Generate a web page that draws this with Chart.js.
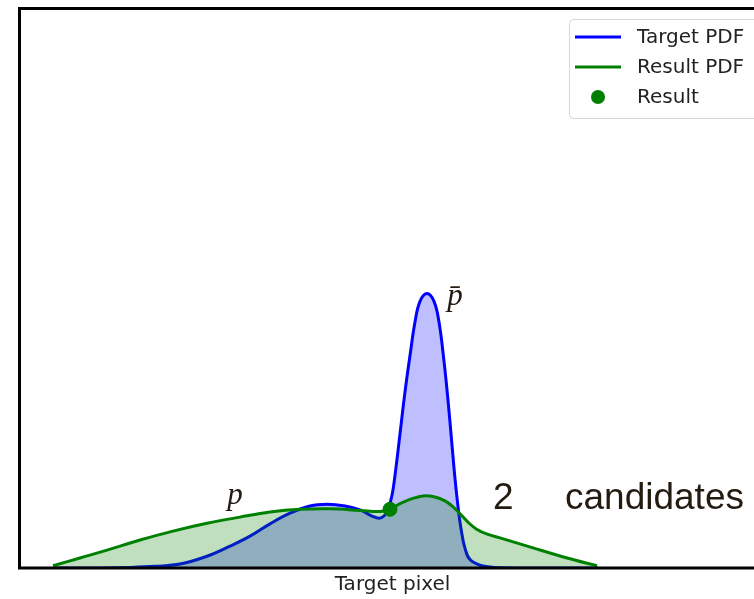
<!DOCTYPE html>
<html>
<head>
<meta charset="utf-8">
<script src="https://cdn.jsdelivr.net/npm/chart.js@4.4.1/dist/chart.umd.min.js"></script>
<style>
  html, body { margin: 0; padding: 0; background: #fff; overflow: hidden; }
  #wrap { width: 780px; height: 599px; }
</style>
</head>
<body>
<div id="wrap"><canvas id="pdfChart" width="780" height="599"></canvas></div>
<script>
// --- data (x = target pixel, y = density) ---
const targetX = [36, 81, 111, 136, 161, 188, 211, 231, 251, 271, 291, 308, 326, 341, 353, 360, 365, 369, 373, 377, 381, 386, 391, 396, 401, 408, 415, 420, 425, 429, 433, 436, 439, 442, 446, 451, 461, 476, 511, 579];
const targetY = [0, 0, 0.001, 0.003, 0.007, 0.021, 0.039, 0.057, 0.079, 0.098, 0.111, 0.114, 0.111, 0.104, 0.093, 0.089, 0.093, 0.105, 0.13, 0.18, 0.24, 0.315, 0.38, 0.44, 0.477, 0.491, 0.477, 0.44, 0.37, 0.3, 0.22, 0.16, 0.11, 0.07, 0.035, 0.015, 0.005, 0.001, 0, 0];

const resultX = [34, 61, 88, 121, 154, 188, 221, 251, 281, 311, 341, 361, 371, 381, 393, 404, 416, 426, 433, 441, 449, 458, 469, 481, 514, 548, 578];
const resultY = [0.004, 0.018, 0.032, 0.05, 0.066, 0.08, 0.091, 0.1, 0.105, 0.106, 0.103, 0.101, 0.105, 0.115, 0.124, 0.129, 0.127, 0.12, 0.111, 0.097, 0.082, 0.069, 0.06, 0.054, 0.036, 0.018, 0.004];

const resultPointX = [371];
const resultPointY = [0.105];

// text labels placed in data units
const noteTexts = ['p\u0304', 'p', '2', 'candidates'];
const noteX = [436, 216, 474, 546];
const noteY = [0.47, 0.114, 0.105, 0.105];
const noteMath = [true, true, false, false];

const toPoints = (xs, ys) => xs.map((x, i) => ({ x: x, y: ys[i] }));

// frame: left, top and bottom spines
const framePlugin = {
  id: 'frame',
  afterDatasetsDraw(chart) {
    const { ctx, chartArea: a } = chart;
    ctx.save();
    ctx.strokeStyle = '#000';
    ctx.lineWidth = 3;
    ctx.lineCap = 'square';
    ctx.beginPath();
    ctx.moveTo(a.right + 20, a.top - 0.5);
    ctx.lineTo(a.left - 0.5, a.top - 0.5);
    ctx.lineTo(a.left - 0.5, a.bottom);
    ctx.lineTo(a.right + 20, a.bottom);
    ctx.stroke();
    ctx.restore();
  }
};

const notesPlugin = {
  id: 'notes',
  afterDraw(chart) {
    const { ctx, scales } = chart;
    ctx.save();
    ctx.fillStyle = '#231a10';
    ctx.textBaseline = 'alphabetic';
    noteTexts.forEach((t, i) => {
      const px = scales.x.getPixelForValue(noteX[i]);
      const py = scales.y.getPixelForValue(noteY[i]);
      if (noteMath[i]) {
        ctx.font = 'italic 31px "Liberation Serif"';
        ctx.textAlign = 'center';
      } else {
        ctx.font = '37px "Liberation Sans"';
        ctx.textAlign = 'left';
      }
      ctx.fillText(t, px, py);
    });
    ctx.restore();
  }
};

// legend box in the upper right corner
const legendPlugin = {
  id: 'cornerLegend',
  afterDraw(chart) {
    const { ctx } = chart;
    const sets = chart.data.datasets;
    const left = 569, top = 19, rowH = 30;
    ctx.save();
    ctx.fillStyle = 'rgba(255,255,255,0.8)';
    ctx.strokeStyle = '#d6d6d6';
    ctx.lineWidth = 1;
    ctx.beginPath();
    ctx.roundRect(left + 0.5, top + 0.5, 230, 99, 4);
    ctx.fill();
    ctx.stroke();
    ctx.font = '20px "DejaVu Sans"';
    ctx.textAlign = 'left';
    ctx.textBaseline = 'middle';
    sets.forEach((ds, i) => {
      const cy = top + 18 + i * rowH;
      if (ds.type === 'scatter') {
        ctx.fillStyle = ds.backgroundColor;
        ctx.beginPath();
        ctx.arc(left + 29, cy, 7, 0, Math.PI * 2);
        ctx.fill();
      } else {
        ctx.strokeStyle = ds.borderColor;
        ctx.lineWidth = 3;
        ctx.beginPath();
        ctx.moveTo(left + 6, cy);
        ctx.lineTo(left + 52, cy);
        ctx.stroke();
      }
      ctx.fillStyle = '#222';
      ctx.fillText(ds.label, left + 68, cy + 1);
    });
    ctx.restore();
  }
};

const ctx = document.getElementById('pdfChart').getContext('2d');

const pdfChart = new Chart(ctx, {
  type: 'line',
  data: {
    datasets: [{
      label: 'Target PDF',
      data: toPoints(targetX, targetY),
      borderColor: '#0000ff',
      backgroundColor: 'rgba(0, 0, 255, 0.25)',
      fill: 'origin',
      borderWidth: 3,
      pointRadius: 0,
      tension: 0.4,
      order: 2
    }, {
      label: 'Result PDF',
      data: toPoints(resultX, resultY),
      borderColor: '#008000',
      backgroundColor: 'rgba(0, 128, 0, 0.25)',
      fill: 'origin',
      borderWidth: 3,
      pointRadius: 0,
      tension: 0.4,
      order: 1
    }, {
      type: 'scatter',
      label: 'Result',
      data: toPoints(resultPointX, resultPointY),
      backgroundColor: '#008000',
      borderColor: '#008000',
      pointRadius: 7,
      order: 0
    }]
  },
  options: {
    responsive: false,
    devicePixelRatio: 1,
    animation: false,
    layout: { padding: { left: 0, top: 9, right: 15, bottom: 0 } },
    scales: {
      x: {
        type: 'linear',
        min: 1,
        max: 746,
        grid: { display: false },
        border: { display: false },
        ticks: { display: false },
        title: {
          display: true,
          text: 'Target pixel',
          color: '#222',
          font: { family: 'DejaVu Sans', size: 20 },
          padding: { top: 0, bottom: 2 }
        },
        afterFit(scale) { scale.height = 31; }
      },
      y: {
        min: 0,
        max: 1,
        grid: { display: false },
        border: { display: false },
        ticks: { display: false },
        afterFit(scale) { scale.width = 20; }
      }
    },
    plugins: {
      legend: { display: false },
      tooltip: { enabled: false }
    }
  },
  plugins: [framePlugin, notesPlugin, legendPlugin]
});
</script>
</body>
</html>
